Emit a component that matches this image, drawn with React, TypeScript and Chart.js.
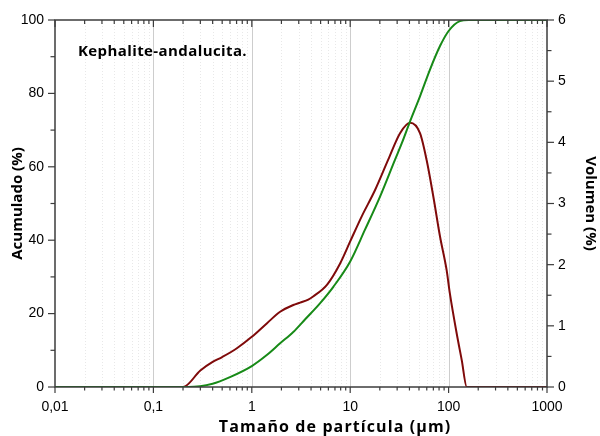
import React, { useEffect, useRef } from "react";
import { Chart, registerables } from "chart.js";

Chart.register(...registerables);

// Particle size (µm) and volume (%) – right axis
const volX = [0.01, 0.2, 0.3, 0.4, 0.5, 0.7, 1.0, 1.42, 1.94, 2.64, 3.1, 3.75, 4.2, 5.8, 7.9, 10, 13.1, 17.9, 24.4, 32.1, 40.6, 51.2, 59.8, 70, 81.8, 95.5, 103, 121, 136, 153, 1000];
const volY = [0, 0, 0.27, 0.41, 0.49, 0.63, 0.82, 1.04, 1.23, 1.34, 1.38, 1.43, 1.48, 1.67, 2.02, 2.38, 2.79, 3.22, 3.72, 4.15, 4.32, 4.15, 3.71, 3.11, 2.46, 1.91, 1.53, 0.87, 0.44, 0, 0];

// Particle size (µm) and cumulative (%) – left axis
const cumX = [0.01, 0.225, 0.4, 0.6, 1.0, 1.42, 1.94, 2.64, 3.47, 4.93, 6.74, 10, 14.1, 20.1, 28.5, 33.3, 40.6, 51.2, 64.7, 81.8, 100, 130, 160, 1000];
const cumY = [0, 0, 0.9, 2.7, 5.7, 8.7, 11.9, 15.0, 18.4, 22.8, 27.3, 34.2, 42.8, 51.9, 61.9, 66.3, 72.4, 79.2, 86.5, 92.9, 97.0, 99.7, 100, 100];

const xTickValues = [0.01, 0.1, 1, 10, 100, 1000];
const xTickLabels = ["0,01", "0,1", "1", "10", "100", "1000"];
const xMinorMultipliers = [2, 3, 4, 5, 6, 7, 8, 9];

const xTitle = "Tamaño de partícula (µm)";
const leftTitle = "Acumulado (%)";
const rightTitle = "Volumen (%)";
const annotationText = "Kephalite-andalucita.";

const TICK_FONT = { family: "'Liberation Sans', Arial, sans-serif", size: 14 };
const TITLE_FAMILY = "'Open Sans', 'DejaVu Sans', sans-serif";

const framePlugin = {
  id: "framePlugin",
  beforeDatasetsDraw(chart: any) {
    const { ctx, chartArea } = chart;
    const { top, bottom } = chartArea;
    const x = chart.scales.x;
    ctx.save();
    ctx.lineWidth = 1;
    ctx.strokeStyle = "#e8e8e8";
    ctx.setLineDash([1, 2]);
    for (let i = 0; i < xTickValues.length - 1; i++) {
      for (const m of xMinorMultipliers) {
        const px = Math.round(x.getPixelForValue(xTickValues[i] * m)) + 0.5;
        ctx.beginPath();
        ctx.moveTo(px, top);
        ctx.lineTo(px, bottom);
        ctx.stroke();
      }
    }
    ctx.setLineDash([]);
    ctx.strokeStyle = "#cdcdcd";
    for (let i = 1; i < xTickValues.length - 1; i++) {
      const px = Math.round(x.getPixelForValue(xTickValues[i])) + 0.5;
      ctx.beginPath();
      ctx.moveTo(px, top);
      ctx.lineTo(px, bottom);
      ctx.stroke();
    }
    ctx.restore();
  },
  afterDatasetsDraw(chart: any) {
    const { ctx, chartArea } = chart;
    const { left, right, top, bottom } = chartArea;
    const x = chart.scales.x;
    const y = chart.scales.y;
    const y1 = chart.scales.y1;
    ctx.save();
    ctx.strokeStyle = "#3c3c3c";
    ctx.lineWidth = 1.5;
    ctx.strokeRect(left, top, right - left, bottom - top);
    ctx.lineWidth = 1.2;
    const line = (x0: number, y0: number, x1: number, y1_: number) => {
      ctx.beginPath();
      ctx.moveTo(x0, y0);
      ctx.lineTo(x1, y1_);
      ctx.stroke();
    };
    // x ticks
    for (let i = 0; i < xTickValues.length; i++) {
      const px = x.getPixelForValue(xTickValues[i]);
      line(px, bottom, px, bottom + 6);
      line(px, top, px, top + 7);
      if (i < xTickValues.length - 1) {
        for (const m of xMinorMultipliers) {
          const mp = x.getPixelForValue(xTickValues[i] * m);
          line(mp, bottom, mp, bottom + 3.5);
          line(mp, top, mp, top + 4);
        }
      }
    }
    // left ticks
    for (let v = 0; v <= 100; v += 10) {
      const py = y.getPixelForValue(v);
      line(left, py, left - (v % 20 === 0 ? 7 : 4.5), py);
    }
    // right ticks
    for (let v = 0; v <= 6; v += 0.5) {
      const py = y1.getPixelForValue(v);
      line(right, py, right + (Number.isInteger(v) ? 7 : 4.5), py);
    }
    // annotation
    ctx.fillStyle = "#000";
    ctx.font = `bold 15px ${TITLE_FAMILY}`;
    ctx.textAlign = "left";
    ctx.textBaseline = "alphabetic";
    try { (ctx as any).letterSpacing = "0.4px"; } catch (e) {}
    ctx.fillText(annotationText, 78, 55.5);
    // x axis title
    ctx.font = `bold 16px ${TITLE_FAMILY}`;
    try { (ctx as any).letterSpacing = "1.1px"; } catch (e) {}
    ctx.textAlign = "center";
    ctx.textBaseline = "middle";
    ctx.fillText(xTitle, 335, 427);
    try { (ctx as any).letterSpacing = "0px"; } catch (e) {}
    ctx.restore();
  },
};

export default function App() {
  const canvasRef = useRef<HTMLCanvasElement | null>(null);

  useEffect(() => {
    const canvas = canvasRef.current;
    if (!canvas) return;
    const chart = new Chart(canvas, {
      type: "line",
      data: {
        datasets: [
          {
            label: "Acumulado",
            data: cumX.map((v, i) => ({ x: v, y: cumY[i] })),
            yAxisID: "y",
            borderColor: "#178a17",
            backgroundColor: "#178a17",
            borderWidth: 2,
            pointRadius: 0,
            cubicInterpolationMode: "monotone",
            fill: false,
          },
          {
            label: "Volumen",
            data: volX.map((v, i) => ({ x: v, y: volY[i] })),
            yAxisID: "y1",
            borderColor: "#7f0a0a",
            backgroundColor: "#7f0a0a",
            borderWidth: 2,
            pointRadius: 0,
            cubicInterpolationMode: "monotone",
            fill: false,
          },
        ],
      },
      options: {
        responsive: false,
        animation: false,
        devicePixelRatio: 1,
        layout: { padding: { top: 20, left: 0, right: 0, bottom: 0 } },
        plugins: {
          legend: { display: false },
          tooltip: { enabled: false },
        },
        scales: {
          x: {
            type: "logarithmic",
            min: 0.01,
            max: 1000,
            grid: { display: false, drawTicks: false },
            border: { display: false },
            afterBuildTicks: (scale: any) => {
              scale.ticks = xTickValues.map((v) => ({ value: v }));
            },
            afterFit: (scale: any) => {
              scale.height = 49;
            },
            ticks: {
              autoSkip: false,
              maxRotation: 0,
              padding: 12,
              color: "#000",
              font: TICK_FONT,
              callback: (_v: any, i: number) => xTickLabels[i],
            },
          },
          y: {
            position: "left",
            min: 0,
            max: 100,
            grid: { display: false, drawTicks: false },
            border: { display: false },
            afterFit: (scale: any) => {
              scale.width = 55;
            },
            ticks: { stepSize: 20, padding: 11, color: "#000", font: TICK_FONT },
            title: {
              display: true,
              text: leftTitle,
              color: "#000",
              font: { family: TITLE_FAMILY, size: 15, weight: "bold" },
              padding: { top: 9, bottom: 0 },
            },
          },
          y1: {
            position: "right",
            min: 0,
            max: 6,
            grid: { display: false, drawTicks: false },
            border: { display: false },
            afterFit: (scale: any) => {
              scale.width = 53;
            },
            ticks: { stepSize: 1, padding: 11, color: "#000", font: TICK_FONT },
            title: {
              display: true,
              text: rightTitle,
              color: "#000",
              font: { family: TITLE_FAMILY, size: 15, weight: "bold" },
              padding: { top: 1, bottom: 0 },
            },
          },
        },
      },
      plugins: [framePlugin],
    } as any);
    return () => chart.destroy();
  }, []);

  return (
    <div style={{ position: "absolute", left: 0, top: 0, width: 600, height: 436, background: "#fff" }}>
      <canvas ref={canvasRef} width={600} height={436} />
    </div>
  );
}
